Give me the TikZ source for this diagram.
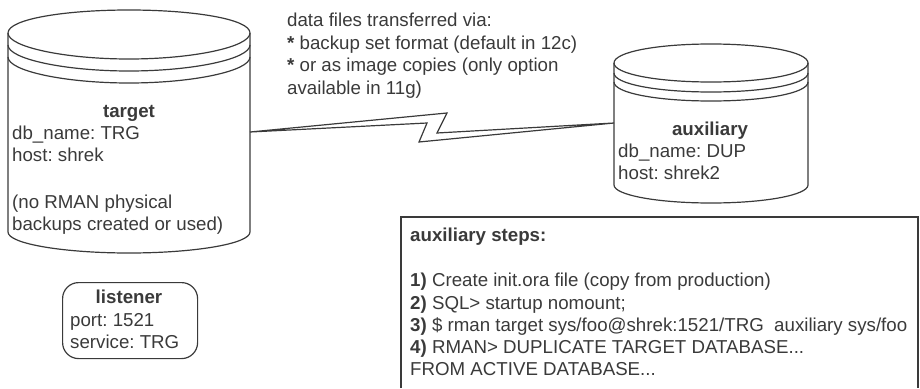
\documentclass[tikz,border=0pt]{standalone}
\usepackage{fontspec}
\setmainfont{Liberation Sans}
\definecolor{ink}{HTML}{3A3A3A}
\tikzset{
  outline/.style={draw=ink,line width=1.2pt},
  lbl/.style={anchor=base west,inner sep=0pt,text=ink,font=\fontsize{18.7}{22}\selectfont\frenchspacing},
  lblb/.style={anchor=base,inner sep=0pt,text=ink,font=\fontsize{18.7}{22}\selectfont\bfseries\frenchspacing},
}
\begin{document}
\begin{tikzpicture}[x=1pt,y=-1pt]
\useasboundingbox (0,0) rectangle (920,388);
% target cylinder
\draw[outline] (8,33) .. controls (8,19) and (65,10) .. (129,10) .. controls (193,10) and (250,19) .. (250,33)
  .. controls (250,47) and (193,59) .. (129,59) .. controls (65,59) and (8,47) .. (8,33) -- cycle;
\draw[outline] (8,45) .. controls (8,59) and (65,71) .. (129,71) .. controls (193,71) and (250,59) .. (250,45);
\draw[outline] (8,57) .. controls (8,71) and (65,83) .. (129,83) .. controls (193,83) and (250,71) .. (250,57);
\draw[outline] (8,33) -- (8,232) .. controls (8,244) and (65,253) .. (129,253) .. controls (193,253) and (250,244) .. (250,232) -- (250,33);
% auxiliary cylinder
\draw[outline] (614,63) .. controls (614,52) and (657,44) .. (711,44) .. controls (765,44) and (808,52) .. (808,63)
  .. controls (808,74) and (765,82) .. (711,82) .. controls (657,82) and (614,74) .. (614,63) -- cycle;
\draw[outline] (614,73) .. controls (614,84) and (657,92) .. (711,92) .. controls (765,92) and (808,84) .. (808,73);
\draw[outline] (614,82) .. controls (614,93) and (657,101) .. (711,101) .. controls (765,101) and (808,93) .. (808,82);
\draw[outline] (614,63) -- (614,185) .. controls (614,195) and (657,203) .. (711,203) .. controls (765,203) and (808,195) .. (808,185) -- (808,63);
% connector
\coordinate (linkA) at (250,132);
\coordinate (linkB) at (614,123);
\draw[outline,line join=miter] (linkA) -- (447,113) -- (437,133) -- (linkB) -- (419,142) -- (427,123) -- cycle;
% listener
\node[outline,rounded corners=16pt,minimum width=135pt,minimum height=76pt,anchor=north west] (listener) at (62,282) {};
% steps box
\draw[outline] (401,388) -- (401,217) -- (918,217) -- (918,388);
% target text
\node[lblb] (t1) at (129,117) {target};
\node[lbl] (t2) at (12,139) {db\_name: TRG};
\node[lbl] (t3) at (12,161) {host: shrek};
\node[lbl] (t4) at (12,208) {(no RMAN physical};
\node[lbl] (t5) at (12,230) {backups created or used)};
% listener text
\node[lblb] (l1) at (129,303) {listener};
\node[lbl] (l2) at (70,326) {port: 1521};
\node[lbl] (l3) at (70,348) {service: TRG};
% transfer text
\node[lbl] (d1) at (287,27) {data files transferred via:};
\node[lbl] (d2) at (287,49) {\textbf{*} backup set format (default in 12c)};
\node[lbl] (d3) at (287,71) {\textbf{*} or as image copies (only option};
\node[lbl] (d4) at (287,94) {available in 11g)};
% auxiliary text
\node[lblb] (a1) at (710,135) {auxiliary};
\node[lbl] (a2) at (618,157) {db\_name: DUP};
\node[lbl] (a3) at (618,179) {host: shrek2};
% steps text
\node[lbl] (s1) at (410,241) {\textbf{auxiliary steps:}};
\node[lbl] (s2) at (410,286) {\textbf{1)} Create init.ora file (copy from production)};
\node[lbl] (s3) at (410,309) {\textbf{2)} SQL> startup nomount;};
\node[lbl] (s4) at (410,331) {\textbf{3)} \$ rman target sys/foo@shrek:1521/TRG\ \ auxiliary sys/foo};
\node[lbl] (s5) at (410,353) {\textbf{4)} RMAN> DUPLICATE TARGET DATABASE...};
\node[lbl] (s6) at (410,375) {FROM ACTIVE DATABASE...};
\end{tikzpicture}
\end{document}
